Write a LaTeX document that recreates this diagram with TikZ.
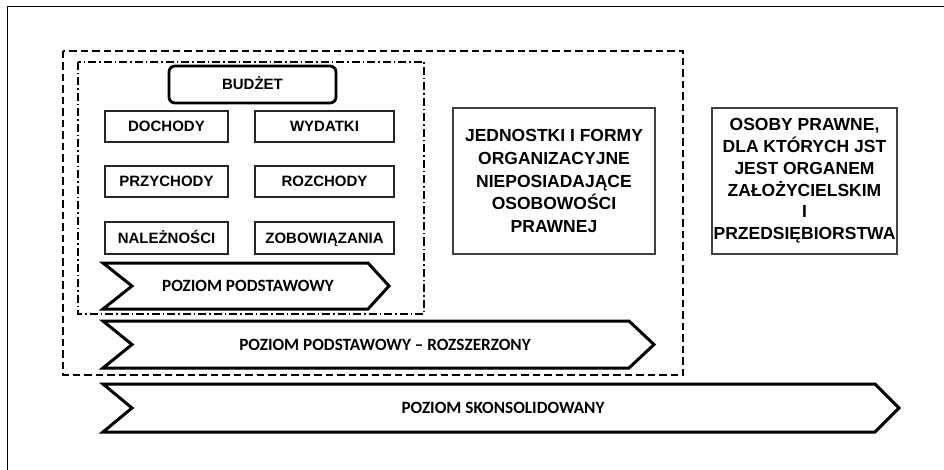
\documentclass[tikz,border=0pt]{standalone}
\usepackage{fontspec}
\setmainfont{Liberation Sans}
\newfontfamily\calib{Carlito}
\begin{document}
\begin{tikzpicture}[x=1pt,y=-1pt,
  smallbox/.style={draw=black!85,line width=1.8pt,minimum width=123pt,minimum height=31pt,inner sep=0pt,text height=10.7pt,text depth=0pt,font=\fontsize{15}{16}\selectfont\bfseries},
  bigbox/.style={draw=black!75,line width=1.2pt,inner sep=0pt,align=center},
  chev/.style={draw=black,line width=3pt,fill=white,line join=miter},
  chevtext/.style={text height=11pt,text depth=0pt,font=\calib\fontsize{17.2}{18}\selectfont\bfseries}]
\useasboundingbox (0,0) rectangle (944,470);
% frame
\draw[line width=1pt] (7,470) -- (7,7) -- (944,7);
% dashed outer
\draw[line width=2.5pt,dash pattern=on 7.5pt off 4pt] (63,51) rectangle (683,375);
% dash-dot inner
\draw[line width=2.2pt,dash pattern=on 8pt off 3pt on 1.5pt off 3pt] (78,62) rectangle (424,314);
% budzet
\node[draw=black,line width=2.8pt,rounded corners=6pt,minimum width=167pt,minimum height=37pt,inner sep=0pt,text height=10.7pt,text depth=0pt,font=\fontsize{15}{16}\selectfont\bfseries] (bud) at (252.5,84.5) {BUDŻET};
\node[smallbox] (doch) at (166.5,126.5) {DOCHODY};
\node[smallbox,minimum width=139pt] (wyd) at (324.5,126.5) {WYDATKI};
\node[smallbox] (przy) at (166.5,181.5) {PRZYCHODY};
\node[smallbox,minimum width=139pt] (roz) at (324.5,181.5) {ROZCHODY};
\node[smallbox,minimum height=32pt] (nal) at (166.5,238) {NALEŻNOŚCI};
\node[smallbox,minimum width=139pt,minimum height=32pt] (zob) at (324.5,238) {ZOBOWIĄZANIA};
% big boxes
\node[bigbox,minimum width=202pt,minimum height=146pt,font=\fontsize{17.5}{22.7}\selectfont\bfseries] (jed) at (554,181) {JEDNOSTKI I FORMY\\ORGANIZACYJNE\\NIEPOSIADAJĄCE\\OSOBOWOŚCI\\PRAWNEJ};
\node[bigbox,minimum width=185pt,minimum height=146pt,font=\fontsize{17.5}{21.8}\selectfont\bfseries] (oso) at (804.5,181) {OSOBY PRAWNE,\\DLA KTÓRYCH JST\\JEST ORGANEM\\ZAŁOŻYCIELSKIM\\I\\PRZEDSIĘBIORSTWA};
% chevrons
\draw[chev] (103,263) -- (368,263) -- (389,286) -- (368,309) -- (103,309) -- (132,286) -- cycle;
\node[chevtext] (p1) at (248,286) {POZIOM PODSTAWOWY};
\draw[chev] (103,321) -- (629,321) -- (654,344.5) -- (629,368) -- (103,368) -- (132,344.5) -- cycle;
\node[chevtext] (p2) at (385,344.5) {POZIOM PODSTAWOWY – ROZSZERZONY};
\draw[chev] (103,384) -- (875,384) -- (899,408) -- (875,432) -- (103,432) -- (132,408) -- cycle;
\node[chevtext] (p3) at (503,408) {POZIOM SKONSOLIDOWANY};
\end{tikzpicture}
\end{document}
